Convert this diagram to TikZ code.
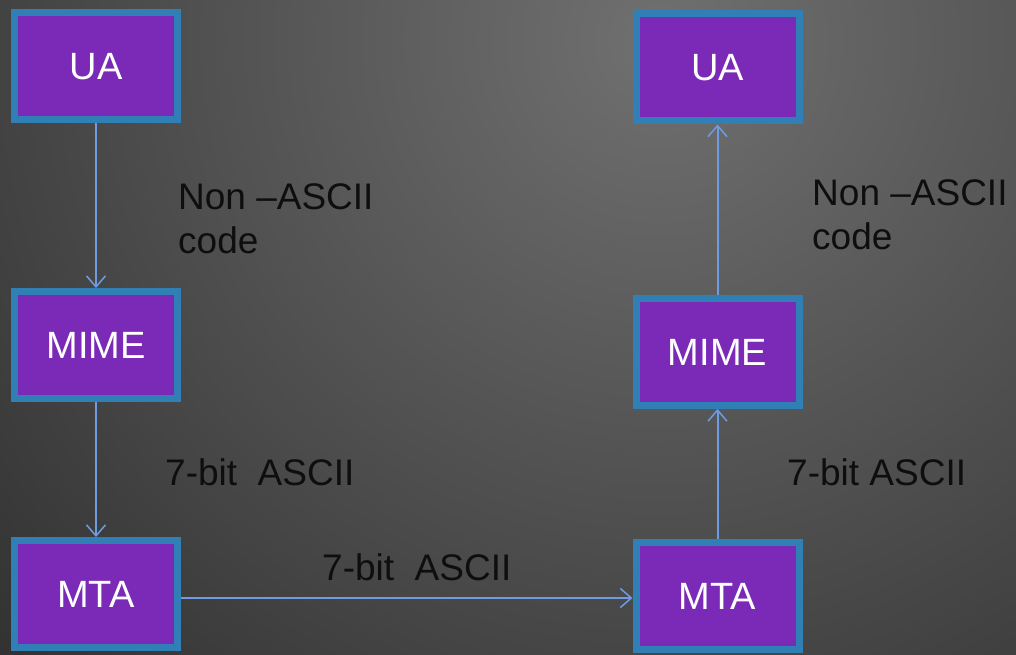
\documentclass[tikz,border=0pt]{standalone}
\usepackage{fontspec}
\setmainfont{Liberation Sans}
\usetikzlibrary{arrows.meta}
\definecolor{boxfill}{RGB}{122,42,182}
\definecolor{boxline}{RGB}{48,128,182}
\definecolor{conn}{RGB}{110,155,225}
\definecolor{bginner}{RGB}{112,112,112}
\definecolor{bgouter}{RGB}{40,40,40}
\definecolor{labtext}{RGB}{14,14,14}
\tikzset{
  agent/.style={draw=boxline, fill=boxfill, line width=7pt, minimum width=163pt, minimum height=107pt,
    inner sep=0pt, text=white, font=\fontsize{38}{43}\selectfont},
  conarrow/.style={draw=conn, line width=2pt, -{Straight Barb[length=11pt,width=19pt,line width=1.5pt]}},
  lab/.style={anchor=base west, inner sep=0pt, text=labtext, align=left, font=\fontsize{37}{44}\selectfont}
}
\begin{document}
\begin{tikzpicture}[x=1pt,y=-1pt]
\useasboundingbox (0,0) rectangle (1016,655);
\begin{scope}
\clip (0,0) rectangle (1016,655);
\fill[bgouter] (0,0) rectangle (1016,655);
\shade[inner color=bginner, outer color=bgouter] (660,40) circle (1050pt);
\end{scope}
\node[agent] (lua) at (96,66.5) {UA};
\node[agent] (lmime) at (96,345) {MIME};
\node[agent] (lmta) at (96,594) {MTA};
\node[agent] (rua) at (717.5,67.5) {UA};
\node[agent] (rmime) at (717.5,352) {MIME};
\node[agent] (rmta) at (717.5,596) {MTA};
\draw[conarrow] (lua.south) -- (lmime.north);
\draw[conarrow] (lmime.south) -- (lmta.north);
\draw[conarrow] (lmta.east |- 0,598) -- (rmta.west |- 0,598);
\draw[conarrow] (rmta.north) -- (rmime.south);
\draw[conarrow] (rmime.north) -- (rua.south);
\node[lab] (l1) at (178,253) {Non –ASCII\\code};
\node[lab] (l2) at (812,249) {Non –ASCII\\code};
\node[lab] (l3) at (165,485) {7-bit\ \ ASCII};
\node[lab] (l4) at (322,580) {7-bit\ \ ASCII};
\node[lab] (l5) at (787,485) {7-bit ASCII};
\end{tikzpicture}
\end{document}
